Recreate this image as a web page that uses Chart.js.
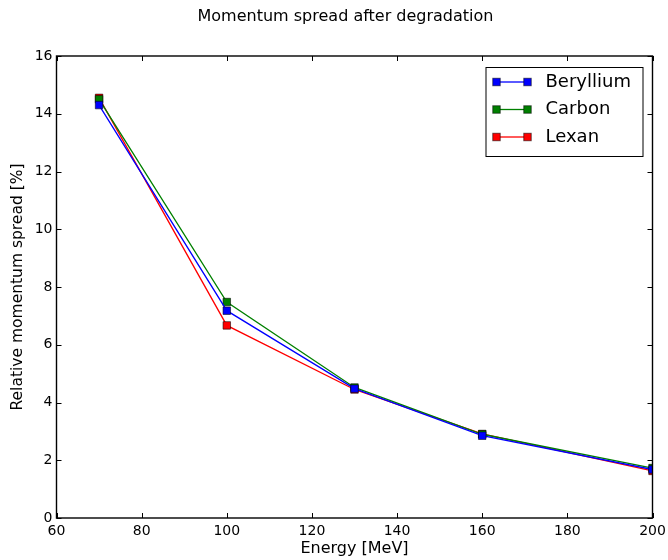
<!DOCTYPE html>
<html>
<head>
<meta charset="utf-8">
<script src="https://cdn.jsdelivr.net/npm/chart.js@4"></script>
<style>
  html, body { margin: 0; padding: 0; background: #fff; }
  #wrap { width: 668px; height: 560px; }
</style>
</head>
<body>
<div id="wrap"><canvas id="c" width="668" height="560"></canvas></div>
<script>
const energies = [70, 100, 130, 160, 200];
const beryllium = [14.30, 7.18, 4.48, 2.85, 1.68];
const carbon = [14.50, 7.48, 4.52, 2.90, 1.73];
const lexan = [14.55, 6.67, 4.45, 2.91, 1.63];
const seriesNames = ['Beryllium', 'Carbon', 'Lexan'];
const seriesColors = ['#0000ff', '#008000', '#ff0000'];
const xTicks = [60, 80, 100, 120, 140, 160, 180, 200];
const yTicks = [0, 2, 4, 6, 8, 10, 12, 14, 16];
const chartTitle = 'Momentum spread after degradation';

const FONT = 'DejaVu Sans';
const seriesValues = [beryllium, carbon, lexan];

const datasets = seriesNames.map((name, i) => ({
  label: name,
  data: energies.map((e, k) => ({ x: e, y: seriesValues[i][k] })),
  borderColor: seriesColors[i],
  backgroundColor: seriesColors[i],
  borderWidth: 1.3,
  pointStyle: 'rect',
  pointRadius: 5.3,
  pointHoverRadius: 5.3,
  pointBorderColor: 'rgba(0,0,0,0.55)',
  pointBorderWidth: 1,
  pointBackgroundColor: seriesColors[i],
  tension: 0,
  clip: 0
}));

const framePlugin = {
  id: 'frame',
  afterDatasetsDraw(chart) {
    const { ctx, chartArea: a, scales } = chart;
    ctx.save();
    // title
    ctx.fillStyle = '#000';
    ctx.font = '16px "' + FONT + '"';
    ctx.textAlign = 'center';
    ctx.textBaseline = 'middle';
    ctx.fillText(chartTitle, 345.5, 17);

    ctx.strokeStyle = '#000';
    ctx.lineWidth = 1;
    const tl = 5;
    ctx.beginPath();
    xTicks.forEach(v => {
      const px = Math.round(scales.x.getPixelForValue(v)) + 0.5;
      ctx.moveTo(px, a.bottom); ctx.lineTo(px, a.bottom - tl);
      ctx.moveTo(px, a.top); ctx.lineTo(px, a.top + tl);
    });
    yTicks.forEach(v => {
      const py = Math.round(scales.y.getPixelForValue(v)) + 0.5;
      ctx.moveTo(a.left, py); ctx.lineTo(a.left + tl, py);
      ctx.moveTo(a.right, py); ctx.lineTo(a.right - tl, py);
    });
    ctx.stroke();
    ctx.lineWidth = 1.4;
    ctx.strokeRect(a.left, a.top, a.right - a.left, a.bottom - a.top);

    // legend
    const bw = 157, bh = 89;
    const bx = a.right - 10 - bw, by = a.top + 11;
    ctx.fillStyle = '#fff';
    ctx.fillRect(bx, by, bw, bh);
    ctx.lineWidth = 1;
    ctx.strokeStyle = '#000';
    ctx.strokeRect(bx + 0.5, by + 0.5, bw, bh);
    ctx.font = '18px "' + FONT + '"';
    ctx.textBaseline = 'middle';
    ctx.textAlign = 'left';
    seriesNames.forEach((name, i) => {
      const y = by + 15 + i * 27.5;
      const x1 = bx + 11, x2 = bx + 42;
      ctx.strokeStyle = seriesColors[i];
      ctx.lineWidth = 1.3;
      ctx.beginPath(); ctx.moveTo(x1, y); ctx.lineTo(x2, y); ctx.stroke();
      [x1, x2].forEach(x => {
        ctx.fillStyle = seriesColors[i];
        ctx.fillRect(x - 3.75, y - 3.75, 7.5, 7.5);
        ctx.strokeStyle = 'rgba(0,0,0,0.55)';
        ctx.lineWidth = 1;
        ctx.strokeRect(x - 3.75, y - 3.75, 7.5, 7.5);
      });
      ctx.fillStyle = '#000';
      ctx.fillText(name, bx + 60, y);
    });
    ctx.restore();
  }
};

new Chart(document.getElementById('c'), {
  type: 'line',
  data: { datasets },
  options: {
    responsive: false,
    animation: false,
    devicePixelRatio: 1,
    layout: { padding: { left: 0, right: 15.5, top: 56, bottom: 0 } },
    plugins: {
      legend: { display: false },
      tooltip: { enabled: false },
      title: { display: false }
    },
    scales: {
      x: {
        type: 'linear',
        min: 60, max: 200,
        afterBuildTicks: s => { s.ticks = xTicks.map(v => ({ value: v })); },
        afterFit: s => { s.height = 42; s.paddingRight = 0; s.paddingLeft = 0; },
        grid: { display: false, drawTicks: false },
        border: { display: false },
        ticks: { color: '#000', padding: 5, font: { family: FONT, size: 14 }, maxRotation: 0 },
        title: {
          display: true, text: 'Energy [MeV]', color: '#000',
          font: { family: FONT, size: 16 },
          padding: { top: 0, bottom: 1.5 }
        }
      },
      y: {
        type: 'linear',
        min: 0, max: 16,
        afterBuildTicks: s => { s.ticks = yTicks.map(v => ({ value: v })); },
        afterFit: s => { s.width = 56.5; s.paddingTop = 0; s.paddingBottom = 0; },
        grid: { display: false, drawTicks: false },
        border: { display: false },
        ticks: { color: '#000', padding: 4, font: { family: FONT, size: 14 } },
        title: {
          display: true, text: 'Relative momentum spread [%]', color: '#000',
          font: { family: FONT, size: 15.5 },
          padding: { top: 9, bottom: 0 }
        }
      }
    }
  },
  plugins: [framePlugin]
});
</script>
</body>
</html>
